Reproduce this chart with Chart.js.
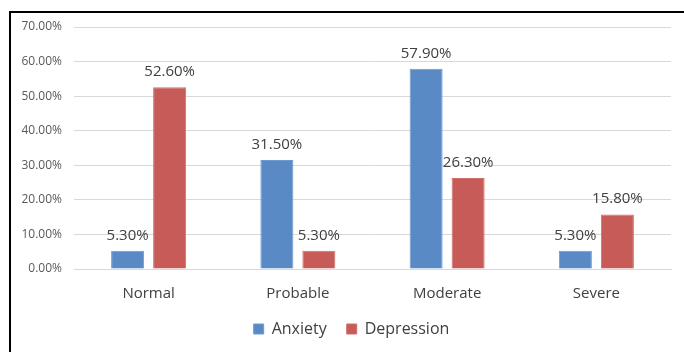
<!DOCTYPE html>
<html>
<head>
<meta charset="utf-8">
<script src="https://cdn.jsdelivr.net/npm/chart.js@4/dist/chart.umd.min.js"></script>
<style>
  html, body { margin: 0; padding: 0; background: #fff; overflow: hidden; }
  #wrap { position: relative; width: 684px; height: 352px; }
  #frame { position: absolute; left: 9px; top: 11px; width: 720px; height: 400px;
           border-top: 2px solid #000; border-left: 2px solid #000; box-sizing: border-box; }
  canvas { position: absolute; left: 0; top: 0; }
</style>
</head>
<body>
<div id="wrap">
  <div id="frame"></div>
  <canvas id="chart" width="684" height="352"></canvas>
</div>
<script>
const categories = ["Normal", "Probable", "Moderate", "Severe"];
const anxiety = [5.3, 31.5, 57.9, 5.3];
const depression = [52.6, 5.3, 26.3, 15.8];
const yTicks = [0, 10, 20, 30, 40, 50, 60, 70];

const FONT = "'Open Sans', 'Liberation Sans', sans-serif";

// Draws each bar's value as a percentage just above the bar
const valueLabels = {
  id: "valueLabels",
  afterDatasetsDraw(chart) {
    const ctx = chart.ctx;
    ctx.save();
    ctx.font = "15px " + FONT;
    ctx.fillStyle = "#404040";
    ctx.textAlign = "center";
    ctx.textBaseline = "alphabetic";
    chart.data.datasets.forEach((ds, i) => {
      chart.getDatasetMeta(i).data.forEach((bar, j) => {
        ctx.fillText(ds.data[j].toFixed(2) + "%", bar.x, bar.y - 11);
      });
    });
    ctx.restore();
  }
};

// Nudges the legend a little to the right, under the plot area
const legendShift = {
  id: "legendShift",
  afterLayout(chart) {
    const lg = chart.legend;
    if (lg) { lg.left += 16; lg.right += 16; }
  }
};

new Chart(document.getElementById("chart"), {
  type: "bar",
  data: {
    labels: categories,
    datasets: [
      { label: "Anxiety", data: anxiety, backgroundColor: "#5A8AC6",
        borderColor: "#6E99CE", borderWidth: 1 },
      { label: "Depression", data: depression, backgroundColor: "#C75B57",
        borderColor: "#D06E6A", borderWidth: 1 }
    ]
  },
  options: {
    responsive: false,
    animation: false,
    devicePixelRatio: 1,
    layout: { padding: { top: 27, right: 13, left: 0, bottom: 5 } },
    datasets: { bar: { categoryPercentage: 0.563, barPercentage: 0.786 } },
    scales: {
      y: {
        min: 0, max: 70,
        afterBuildTicks(scale) { scale.ticks = yTicks.map(v => ({ value: v })); },
        afterFit(scale) { scale.width = 74; },
        border: { display: false },
        grid: { color: "#D9D9D9", lineWidth: 1, drawTicks: false },
        ticks: {
          padding: 12,
          color: "#595959",
          font: { family: FONT, size: 12 },
          callback: v => v.toFixed(2) + "%"
        }
      },
      x: {
        border: { display: true, color: "#D9D9D9" },
        grid: { display: false },
        afterFit(scale) { scale.height = 32; },
        ticks: { padding: 8, color: "#404040", font: { family: FONT, size: 15 } }
      }
    },
    plugins: {
      tooltip: { enabled: false },
      legend: {
        position: "bottom",
        labels: {
          color: "#404040",
          font: { family: FONT, size: 16 },
          boxWidth: 10, boxHeight: 10, padding: 20
        }
      }
    }
  },
  plugins: [valueLabels, legendShift]
});
</script>
</body>
</html>
